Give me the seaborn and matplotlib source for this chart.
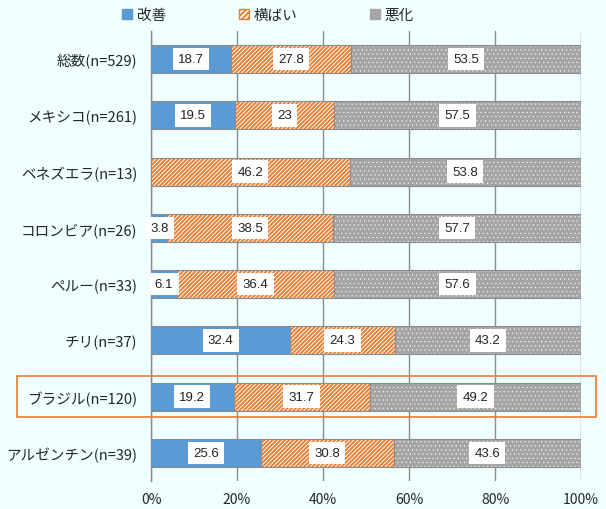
import numpy as np
import pandas as pd
import matplotlib
matplotlib.use("Agg")
import matplotlib.pyplot as plt
import matplotlib.patches as mpatches
import seaborn as sns

# data (%)
countries = ["総数(n=529)", "メキシコ(n=261)", "ベネズエラ(n=13)", "コロンビア(n=26)",
             "ペルー(n=33)", "チリ(n=37)", "ブラジル(n=120)", "アルゼンチン(n=39)"]
improved = [18.7, 19.5, 0.0, 3.8, 6.1, 32.4, 19.2, 25.6]
flat = [27.8, 23.0, 46.2, 38.5, 36.4, 24.3, 31.7, 30.8]
worse = [53.5, 57.5, 53.8, 57.7, 57.6, 43.2, 49.2, 43.6]
series_names = ["改善", "横ばい", "悪化"]
x_ticks = [0, 20, 40, 60, 80, 100]
highlight = "ブラジル(n=120)"

blue = "#5B9BD5"
orange = "#ED7D31"
grey = "#A5A5A5"
bg = "#F0FFFF"

sns.set_theme(style="white")
plt.rcParams['font.family'] = ['Noto Sans CJK JP', 'DejaVu Sans']
plt.rcParams['hatch.linewidth'] = 1.4

df = pd.DataFrame({"country": countries, "improved": improved,
                   "flat": flat, "worse": worse})
df["cum1"] = df["improved"]
df["cum2"] = df["improved"] + df["flat"]
df["cum3"] = df["cum2"] + df["worse"]

fig = plt.figure(figsize=(6.06, 5.10), dpi=100, facecolor=bg)
ax = fig.add_axes([151 / 606, 1 - 482 / 510, 430 / 606, 450 / 510])
ax.set_facecolor(bg)
ax.set_axisbelow(True)

# overlay cumulative bars (classic seaborn stacking)
sns.barplot(data=df, y="country", x="cum3", orient="h", color=grey,
            saturation=1, width=0.5, ax=ax, zorder=3)
sns.barplot(data=df, y="country", x="cum2", orient="h", color="white",
            saturation=1, width=0.5, ax=ax, zorder=3)
sns.barplot(data=df, y="country", x="cum1", orient="h", color=blue,
            saturation=1, width=0.5, ax=ax, zorder=3)

for i, cont in enumerate(ax.containers):
    for bar in cont:
        if i == 0:
            bar.set_hatch("....")
            bar.set_edgecolor("white")
            bar.set_linewidth(0)
            if hasattr(bar, "set_hatch_linewidth"):
                bar.set_hatch_linewidth(0.3)
        elif i == 1:
            bar.set_hatch("////////")
            bar.set_edgecolor(orange)
            bar.set_linewidth(0)
        else:
            bar.set_edgecolor("#8C8C8C")
            bar.set_linewidth(0.8)

# outlines for hatched segments
for yi in range(len(df)):
    lefts = [df["cum1"][yi], df["cum2"][yi]]
    widths = [df["flat"][yi], df["worse"][yi]]
    for l, w in zip(lefts, widths):
        ax.add_patch(mpatches.Rectangle((l, yi - 0.25), min(w, 100 - l), 0.5,
                                        fill=False, edgecolor="#8C8C8C",
                                        linewidth=0.8, zorder=4))

# value labels
box = dict(boxstyle="square,pad=0.4", facecolor="white", edgecolor="none")
for yi in range(len(df)):
    segs = [(0, df["improved"][yi]), (df["cum1"][yi], df["flat"][yi]),
            (df["cum2"][yi], df["worse"][yi])]
    for left, val in segs:
        if val <= 0:
            continue
        ax.text(left + val / 2, yi, f"{val:g}", ha="center", va="center",
                fontsize=9.5, color="#222222", bbox=box, zorder=5,
                family=['Liberation Sans', 'DejaVu Sans'])

ax.set_xlim(0, 100)
ax.set_ylim(len(df) - 0.5, -0.5)
ax.set_xticks(x_ticks)
ax.set_xticklabels([f"{t}%" for t in x_ticks], fontsize=10)
ax.set_xlabel("")
ax.set_ylabel("")
ax.tick_params(axis="y", length=0, labelsize=10.5, pad=10)
ax.tick_params(axis="x", length=0, pad=8)
ax.set_yticks(np.arange(-0.5, len(df), 1), minor=True)
ax.tick_params(axis="y", which="minor", length=5, color="#888888", direction="out")
ax.grid(axis="x", color="#8C8C8C", linewidth=1)
for s in ["top", "right", "bottom"]:
    ax.spines[s].set_visible(False)
ax.spines["left"].set_color("#888888")
ax.spines["left"].set_linewidth(1)

# highlight box around Brazil row
hi = countries.index(highlight)
y0 = ax.transData.transform((0, hi + 0.37))[1]
y1 = ax.transData.transform((0, hi - 0.37))[1]
fh = fig.get_size_inches()[1] * fig.dpi
fig.patches.append(mpatches.Rectangle((17 / 606, y0 / fh), 579 / 606, (y1 - y0) / fh,
                                      transform=fig.transFigure, fill=False,
                                      edgecolor=orange, linewidth=1.2))

handles = [mpatches.Patch(facecolor=blue, edgecolor=blue),
           mpatches.Patch(facecolor="white", edgecolor=orange, hatch="//////"),
           mpatches.Patch(facecolor=grey, edgecolor=grey)]
fig.legend(handles, series_names, loc="center", bbox_to_anchor=(268 / 606, 1 - 16 / 510),
           ncol=3, frameon=False, fontsize=10.5, handlelength=0.7, handleheight=0.7,
           handletextpad=0.3, columnspacing=5)

fig.savefig("out.png", dpi=100, facecolor=bg)
